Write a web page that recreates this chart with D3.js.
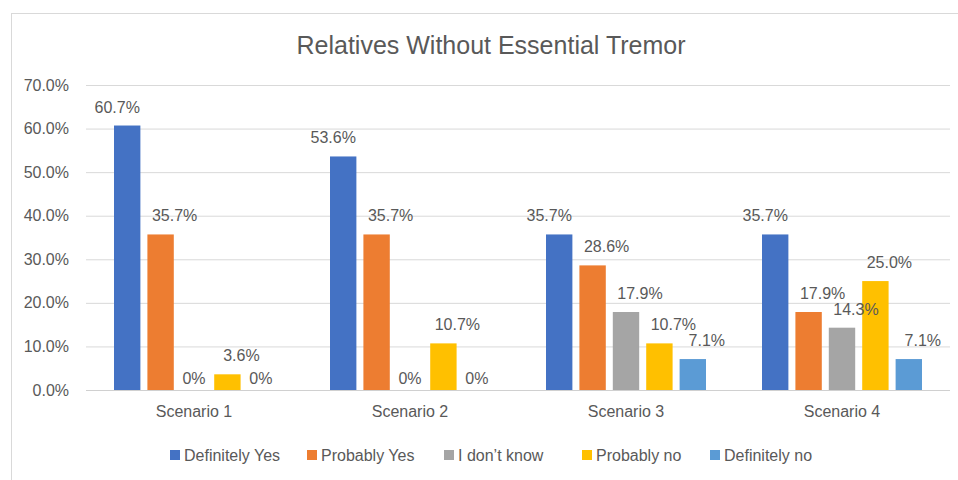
<!doctype html>
<meta charset="utf-8">
<title>Relatives Without Essential Tremor</title>
<style>
    html, body {
        margin: 0;
        background: white;
    }

    svg {
        display: block;
        font-family: "Liberation Sans", Arial, sans-serif;
    }

    text {
        fill: #595959;
    }

    .grid line {
        stroke: #d9d9d9;
    }

    .grid .domain {
        display: none;
    }
</style>
<svg width=958 height=480></svg>
<script src=https://d3js.org/d3.v7.min.js></script>
<script>
    var scenarios = ['Scenario 1', 'Scenario 2', 'Scenario 3', 'Scenario 4'];
    var answers = ['Definitely Yes', 'Probably Yes', 'I don\u2019t know', 'Probably no', 'Definitely no'];
    var colors = ['#4472c4', '#ed7d31', '#a5a5a5', '#ffc000', '#5b9bd5'];

    // one array per answer, one value per scenario (percent)
    var definitelyYes = [60.7, 53.6, 35.7, 35.7];
    var probablyYes = [35.7, 35.7, 28.6, 17.9];
    var dontKnow = [0, 0, 17.9, 14.3];
    var probablyNo = [3.6, 10.7, 10.7, 25.0];
    var definitelyNo = [0, 0, 7.1, 7.1];

    var yTicks = [0, 10, 20, 30, 40, 50, 60, 70];

    var seriesValues = [definitelyYes, probablyYes, dontKnow, probablyNo, definitelyNo];

    var svg = d3.select('svg');

    // chart frame
    svg.append('rect')
        .attr('x', 11.5)
        .attr('y', 13.5)
        .attr('width', 960)
        .attr('height', 480)
        .attr('fill', 'none')
        .attr('stroke', '#d9d9d9');

    svg.append('text')
        .attr('x', 491)
        .attr('y', 54)
        .attr('text-anchor', 'middle')
        .style('font-size', '25px')
        .text('Relatives Without Essential Tremor');

    var x0 = d3.scaleBand().domain(scenarios).range([86, 950]);
    var x1 = d3.scaleBand().domain(answers)
        .range([28, x0.bandwidth() - 28])
        .paddingInner(0.21);
    var y = d3.scaleLinear().domain([0, 70]).range([390, 85]);
    var color = d3.scaleOrdinal(answers, colors);

    // gridlines
    svg.append('g')
        .attr('class', 'grid')
        .attr('transform', 'translate(86,0)')
        .call(d3.axisLeft(y).tickValues(yTicks).tickSize(-864).tickFormat(''));

    // y labels
    svg.append('g')
        .selectAll('text')
        .data(yTicks)
        .join('text')
        .attr('x', 69)
        .attr('y', function (d) { return y(d); })
        .attr('dy', '0.35em')
        .attr('text-anchor', 'end')
        .style('font-size', '16px')
        .text(function (d) { return d.toFixed(1) + '%'; });

    // x axis line and labels
    svg.append('line')
        .attr('x1', 86).attr('x2', 950)
        .attr('y1', y(0) + 0.5).attr('y2', y(0) + 0.5)
        .attr('stroke', '#d0d0d0');

    svg.append('g')
        .selectAll('text')
        .data(scenarios)
        .join('text')
        .attr('x', function (d) { return x0(d) + x0.bandwidth() / 2; })
        .attr('y', 417)
        .attr('text-anchor', 'middle')
        .style('font-size', '16px')
        .text(function (d) { return d; });

    var rows = [];
    answers.forEach(function (a, i) {
        scenarios.forEach(function (s, j) {
            rows.push({ answer: a, index: i, scenario: s, value: seriesValues[i][j] });
        });
    });

    function barX(d) {
        return x0(d.scenario) + x1(d.answer);
    }

    svg.append('g')
        .selectAll('rect')
        .data(rows)
        .join('rect')
        .attr('x', barX)
        .attr('y', function (d) { return y(d.value); })
        .attr('width', x1.bandwidth())
        .attr('height', function (d) { return y(0) - y(d.value); })
        .attr('fill', function (d) { return color(d.answer); });

    // data labels sit above each bar, nudged like the original, drawn over all bars
    svg.append('g')
        .selectAll('text')
        .data(rows)
        .join('text')
        .attr('x', function (d) {
            var nudge = d.value === 0 ? 0 : (d.index === 0 ? -10 : 14);
            return barX(d) + x1.bandwidth() / 2 + nudge;
        })
        .attr('y', function (d) { return y(d.value) - (d.value === 0 ? 6 : 13); })
        .attr('text-anchor', 'middle')
        .style('font-size', '16px')
        .text(function (d) { return d.value === 0 ? '0%' : d.value.toFixed(1) + '%'; });

    // legend
    var legendX = [170, 307, 444, 582, 710];
    var legend = svg.append('g')
        .selectAll('g')
        .data(answers)
        .join('g')
        .attr('transform', function (d, i) { return 'translate(' + legendX[i] + ',455)'; });

    legend.append('rect')
        .attr('y', -5)
        .attr('width', 10)
        .attr('height', 10)
        .attr('fill', function (d) { return color(d); });

    legend.append('text')
        .attr('x', 14)
        .attr('dy', '0.35em')
        .style('font-size', '16px')
        .text(function (d) { return d; });
</script>
